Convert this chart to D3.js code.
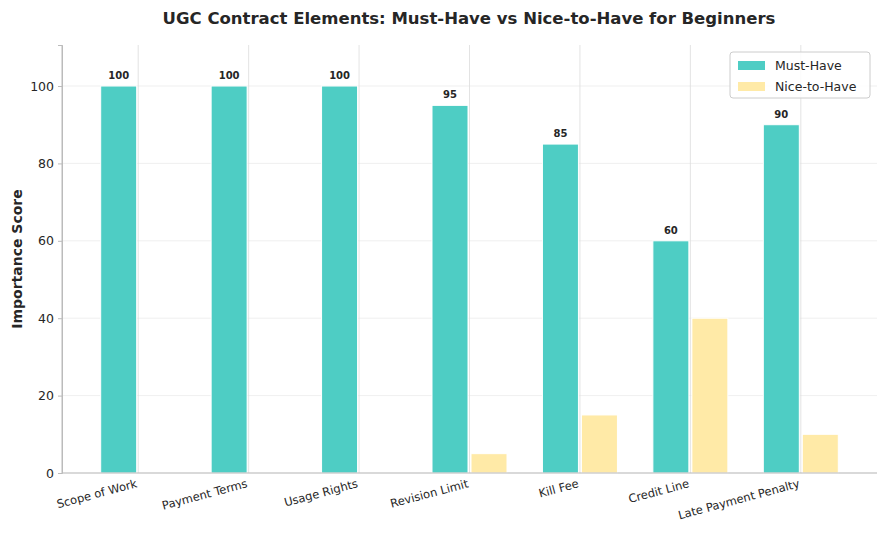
<!DOCTYPE html>
<html lang="en">
<head>
<meta charset="UTF-8">
<title>UGC Contract Elements</title>
<script src="https://cdn.jsdelivr.net/npm/d3@7"></script>
<style>
    body { margin: 0; padding: 0; background: #fff; }
    text { font-family: "DejaVu Sans", sans-serif; fill: #262626; }
</style>
</head>
<body>
<svg width="887" height="536"></svg>
<script>
    var categories = ['Scope of Work', 'Payment Terms', 'Usage Rights', 'Revision Limit', 'Kill Fee', 'Credit Line', 'Late Payment Penalty'];
    var mustHave = [100, 100, 100, 95, 85, 60, 90];
    var niceToHave = [0, 0, 0, 5, 15, 40, 10];
    var yTicks = [0, 20, 40, 60, 80, 100];

    var svg = d3.select('svg');
    var pLeft = 62, pRight = 877, pTop = 45, pBottom = 473;
    var x = d3.scaleLinear().domain([-0.69, 6.69]).range([pLeft, pRight]);
    var y = d3.scaleLinear().domain([0, 110.6]).range([pBottom, pTop]);
    var bw = 36, gap = 1.5;

    // grid
    svg.append('g').selectAll('line').data(yTicks).enter().append('line')
        .attr('x1', pLeft).attr('x2', pRight)
        .attr('y1', function(d) { return y(d); }).attr('y2', function(d) { return y(d); })
        .attr('stroke', '#ebebeb').attr('stroke-width', 0.8);
    svg.append('g').selectAll('line').data(categories).enter().append('line')
        .attr('x1', function(d, i) { return x(i); }).attr('x2', function(d, i) { return x(i); })
        .attr('y1', pTop).attr('y2', pBottom)
        .attr('stroke', '#dcdcdc').attr('stroke-width', 0.8);

    // bars
    svg.append('g').selectAll('rect').data(mustHave).enter().append('rect')
        .attr('x', function(d, i) { return x(i) - gap - bw; })
        .attr('y', function(d) { return y(d); })
        .attr('width', bw).attr('height', function(d) { return pBottom - y(d); })
        .attr('fill', '#4ECDC4').attr('stroke', '#fff').attr('stroke-width', 1);
    svg.append('g').selectAll('rect').data(niceToHave).enter().append('rect')
        .attr('x', function(d, i) { return x(i) + gap; })
        .attr('y', function(d) { return y(d); })
        .attr('width', bw).attr('height', function(d) { return pBottom - y(d); })
        .attr('fill', '#FFEAA7').attr('stroke', '#fff').attr('stroke-width', 1);

    svg.append('g').selectAll('text').data(mustHave).enter().append('text')
        .attr('x', function(d, i) { return x(i) - gap - bw / 2; })
        .attr('y', function(d) { return y(d) - 7; })
        .attr('text-anchor', 'middle').attr('font-size', 10).attr('font-weight', 'bold')
        .text(function(d) { return d; });

    // axes
    var yAxis = svg.append('g').attr('transform', 'translate(' + pLeft + ',0)')
        .call(d3.axisLeft(y).tickValues(yTicks).tickSize(4).tickPadding(4));
    yAxis.select('.domain').attr('stroke', '#bbb');
    yAxis.selectAll('.tick line').attr('stroke', '#bbb');
    yAxis.selectAll('text').attr('font-size', 12.5).style('font-family', '"DejaVu Sans", sans-serif').attr('fill', '#262626');

    var xAxis = svg.append('g').attr('transform', 'translate(0,' + pBottom + ')')
        .call(d3.axisBottom(x).tickValues(d3.range(categories.length)).tickFormat(function(i) { return categories[i]; }).tickSize(0).tickSizeOuter(0));
    xAxis.select('.domain').attr('stroke', '#bbb').attr('d', 'M' + pLeft + ',0H' + pRight);
    xAxis.selectAll('text').attr('font-size', 11.5).style('font-family', '"DejaVu Sans", sans-serif').attr('fill', '#262626')
        .attr('text-anchor', 'end').attr('dy', null).attr('y', 0)
        .attr('transform', 'translate(-1,14) rotate(-15)');

    svg.append('line').attr('x1', pLeft).attr('x2', pLeft).attr('y1', pTop).attr('y2', pBottom).attr('stroke', '#bbb');

    svg.append('text').attr('x', 469).attr('y', 24).attr('text-anchor', 'middle')
        .attr('font-size', 16.5).attr('font-weight', 'bold')
        .text('UGC Contract Elements: Must-Have vs Nice-to-Have for Beginners');
    svg.append('text').attr('transform', 'translate(22,' + ((pTop + pBottom) / 2) + ') rotate(-90)')
        .attr('text-anchor', 'middle').attr('font-size', 14).attr('font-weight', 'bold')
        .text('Importance Score');

    // legend
    var lg = svg.append('g').attr('transform', 'translate(730,52)');
    lg.append('rect').attr('width', 140).attr('height', 46).attr('rx', 3)
        .attr('fill', '#fff').attr('fill-opacity', 0.85).attr('stroke', '#ccc');
    [['Must-Have', '#4ECDC4'], ['Nice-to-Have', '#FFEAA7']].forEach(function(d, i) {
        lg.append('rect').attr('x', 8).attr('y', 9 + i * 21).attr('width', 27).attr('height', 9).attr('fill', d[1]);
        lg.append('text').attr('x', 45).attr('y', 18 + i * 21).attr('font-size', 12.5).text(d[0]);
    });
</script>
</body>
</html>
